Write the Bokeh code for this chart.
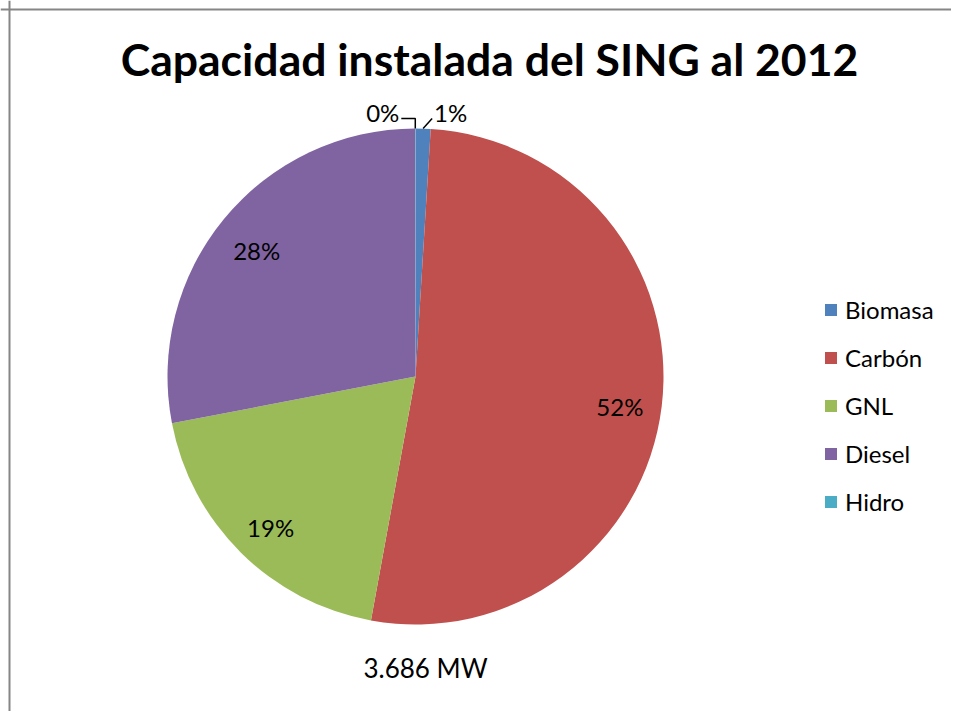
import math
from bokeh.plotting import figure
from bokeh.models import ColumnDataSource, Range1d, Legend, LegendItem, Span
from bokeh.core.properties import value
from bokeh.embed import file_html
from bokeh.resources import INLINE

# ---- data ----
categories = ["Biomasa", "Carbón", "GNL", "Diesel", "Hidro"]
capacity_mw = [36, 1913, 704, 1032, 1]
colors = ["#4F81BD", "#C0504D", "#9BBB59", "#8064A2", "#4BACC6"]
title_text = "Capacidad instalada del SING al 2012"
total_text = "3.686 MW"

# ---- layout ----
W, H = 951, 711
CX, CY, R = 415, 335, 248
FONT = "Lato"

total = sum(capacity_mw)
fracs = [v / total for v in capacity_mw]
starts, ends, mids = [], [], []
cum = 0.0
for f in fracs:
    a0 = cum
    cum += f
    ends.append(math.pi / 2 - a0 * 2 * math.pi)
    starts.append(math.pi / 2 - cum * 2 * math.pi)
    mids.append(math.pi / 2 - (a0 + f / 2) * 2 * math.pi)
pct = [f"{round(f * 100)}%" for f in fracs]

src = ColumnDataSource(dict(name=categories, start=starts, end=ends, color=colors))

p = figure(width=W, height=H, x_range=Range1d(0, W), y_range=Range1d(0, H),
           output_backend="svg", toolbar_location=None, min_border=0,
           x_axis_location=None, y_axis_location=None, outline_line_color=None)
p.grid.visible = False

r = p.wedge(x=CX, y=CY, radius=R, start_angle="start", end_angle="end",
            fill_color="color", line_color=None, source=src)

ix, iy, it = [], [], []
ox_r, oy_r, ot_r = [], [], []
ox_l, oy_l, ot_l = [], [], []
for f, m, t in zip(fracs, mids, pct):
    if f >= 0.05:
        ix.append(CX + 0.83 * R * math.cos(m))
        iy.append(CY + 0.83 * R * math.sin(m) - 5)
        it.append(t)
    else:
        ex = CX + R * math.cos(m)
        ey = CY + R * math.sin(m)
        if math.cos(m) >= 0:
            p.line([ex, ex + 9], [ey, ey + 10], line_color="black", line_width=1.5)
            ox_r.append(ex + 11); oy_r.append(ey + 16); ot_r.append(t)
        else:
            p.line([ex, ex, ex - 14], [ey, ey + 10, ey + 10], line_color="black", line_width=1.5)
            ox_l.append(ex - 16); oy_l.append(ey + 16); ot_l.append(t)

lbl = dict(text_font=value(FONT), text_font_size="24px", text_color="black",
           text_baseline="middle")
p.text(x=ix, y=iy, text=it, text_align="center", **lbl)
p.text(x=ox_r, y=oy_r, text=ot_r, text_align="left", **lbl)
p.text(x=ox_l, y=oy_l, text=ot_l, text_align="right", **lbl)

# title and total
p.text(x=[489], y=[H - 58], text=[title_text], text_align="center", text_baseline="middle",
       text_font=value(FONT), text_font_style="bold", text_font_size="44.5px", text_color="black")
p.text(x=[CX + 10], y=[H - 667], text=[total_text], text_align="center", text_baseline="middle",
       text_font=value(FONT), text_font_size="26px", text_color="black")

# border (left and top)
p.add_layout(Span(location=9, dimension="height", line_color="#868686", line_width=2))
p.add_layout(Span(location=H - 9, dimension="width", line_color="#868686", line_width=2))

items = [LegendItem(label=c, renderers=[r], index=i) for i, c in enumerate(categories)]
legend = Legend(items=items, location=(823, 195), border_line_color=None,
                background_fill_alpha=0, padding=0, margin=0, spacing=19,
                label_height=24, glyph_height=15, glyph_width=15, label_standoff=7,
                label_text_font=FONT, label_text_font_size="24px",
                label_text_color="black")
p.add_layout(legend)

open("out.html", "w").write(file_html(p, INLINE))
